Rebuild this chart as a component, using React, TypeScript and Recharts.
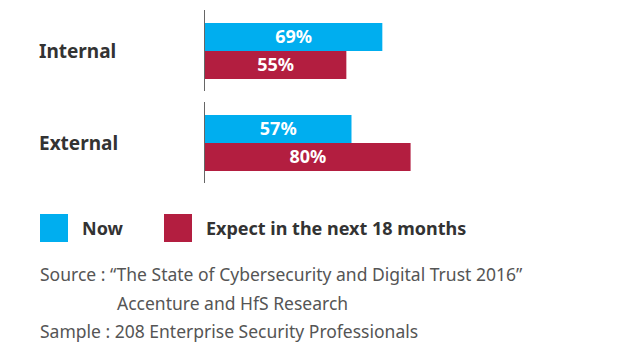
import { BarChart, Bar, XAxis, YAxis, LabelList } from "recharts";

const categories = ["Internal", "External"];
const nowValues = [69, 57];
const expectValues = [55, 80];
const seriesNames = ["Now", "Expect in the next 18 months"];
const sourceLines = [
  "Source : \u201cThe State of Cybersecurity and Digital Trust 2016\u201d",
  "Accenture and HfS Research",
  "Sample : 208 Enterprise Security Professionals",
];

const NOW_COLOR = "#00aeef";
const EXPECT_COLOR = "#b31e40";
const seriesColors = [NOW_COLOR, EXPECT_COLOR];
const FONT = "'Noto Sans', sans-serif";

const data = categories.map((name, i) => ({
  name,
  now: nowValues[i],
  expect: expectValues[i],
}));

// category label on the left plus a short axis segment per category
function CategoryTick(props: any) {
  const { x, y, payload } = props;
  return (
    <g>
      <line x1={x - 0.5} x2={x - 0.5} y1={y - 41} y2={y + 40} stroke="#666" strokeWidth={1} />
      <text
        x={39}
        y={y + 7}
        textAnchor="start"
        fontFamily={FONT}
        fontWeight={700}
        fontSize={19}
        fill="#333"
      >
        {payload.value}
      </text>
    </g>
  );
}

const pctLabel = {
  position: "center" as const,
  formatter: (v: any) => `${v}%`,
  fill: "#fff",
  fontFamily: FONT,
  fontWeight: 700,
  fontSize: 18,
};

export default function App() {
  return (
    <div
      style={{
        position: "absolute",
        left: 0,
        top: 0,
        width: 625,
        height: 360,
        background: "#fff",
      }}
    >
      <BarChart
        width={625}
        height={190}
        data={data}
        layout="vertical"
        margin={{ top: 5, right: 163, bottom: 1, left: 0 }}
        barCategoryGap={18}
        barGap={0}
      >
        <XAxis type="number" domain={[0, 100]} hide />
        <YAxis
          type="category"
          dataKey="name"
          width={205}
          axisLine={false}
          tickLine={false}
          tickSize={0}
          tickMargin={0}
          tick={<CategoryTick />}
        />
        <Bar dataKey="now" name={seriesNames[0]} fill={NOW_COLOR} barSize={28} isAnimationActive={false}>
          <LabelList dataKey="now" {...pctLabel} />
        </Bar>
        <Bar dataKey="expect" name={seriesNames[1]} fill={EXPECT_COLOR} barSize={28} isAnimationActive={false}>
          <LabelList dataKey="expect" {...pctLabel} />
        </Bar>
      </BarChart>

      {/* legend */}
      <div
        style={{
          position: "absolute",
          left: 40,
          top: 214,
          display: "flex",
          alignItems: "center",
          fontFamily: FONT,
        }}
      >
        {seriesNames.map((name, i) => (
          <div key={name} style={{ display: "flex", alignItems: "center", marginRight: 41 }}>
            <span
              style={{
                display: "inline-block",
                width: 28,
                height: 28,
                background: seriesColors[i],
                marginRight: 14,
              }}
            />
            <span style={{ fontSize: 18, fontWeight: 700, color: "#333" }}>{name}</span>
          </div>
        ))}
      </div>

      <div
        style={{
          position: "absolute",
          left: 40,
          top: 260,
          fontFamily: FONT,
          fontSize: 17.5,
          color: "#555",
          lineHeight: "28.5px",
        }}
      >
        <div>{sourceLines[0]}</div>
        <div style={{ paddingLeft: 77 }}>{sourceLines[1]}</div>
        <div>{sourceLines[2]}</div>
      </div>
    </div>
  );
}
